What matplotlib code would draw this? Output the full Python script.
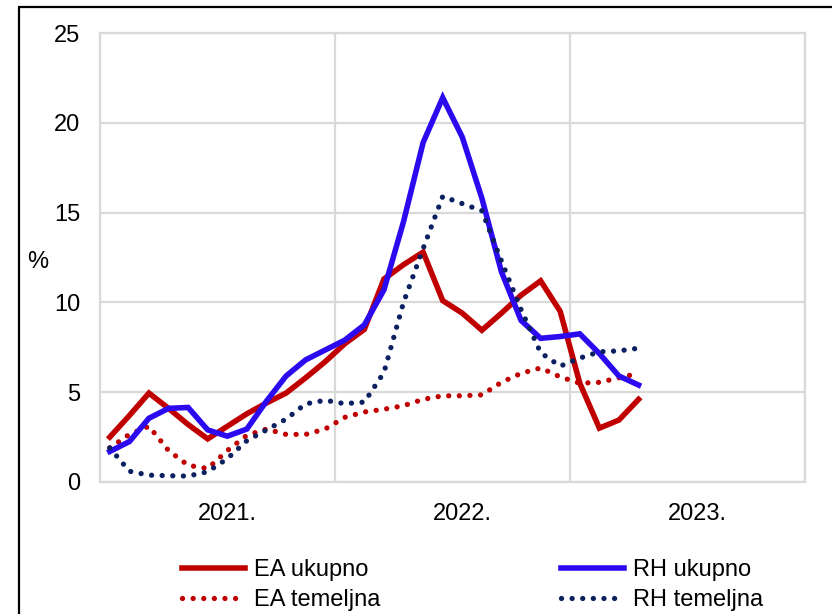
import matplotlib
matplotlib.use("Agg")
import matplotlib.pyplot as plt
from matplotlib.patches import Rectangle
import numpy as np

plt.rcParams['font.family'] = ['Liberation Sans', 'DejaVu Sans']

# monthly data, Jan 2021 .. Apr 2023
ea_ukupno = [2.5, 3.7, 4.95, 4.1, 3.2, 2.4, 3.1, 3.8, 4.4, 4.95, 5.8, 6.7, 7.7, 8.5,
             11.3, 12.1, 12.8, 10.1, 9.4, 8.45, 9.4, 10.4, 11.2, 9.5, 5.5, 3.0, 3.45, 4.6]
rh_ukupno = [1.7, 2.25, 3.55, 4.1, 4.15, 2.9, 2.55, 2.95, 4.5, 5.9, 6.8, 7.35, 7.9, 8.75,
             10.7, 14.5, 18.9, 21.4, 19.2, 15.8, 11.7, 9.0, 8.0, 8.1, 8.25, 7.15, 5.9, 5.4]
ea_temeljna = [1.9, 2.65, 3.1, 1.75, 0.93, 0.75, 1.75, 2.6, 2.95, 2.65, 2.65, 2.95, 3.6, 3.9,
               4.05, 4.25, 4.6, 4.8, 4.8, 4.85, 5.55, 6.05, 6.35, 5.85, 5.5, 5.55, 5.8, 6.05]
rh_temeljna = [1.9, 0.6, 0.38, 0.35, 0.33, 0.57, 1.3, 2.3, 2.9, 3.5, 4.35, 4.55, 4.36, 4.45,
               6.1, 10.0, 13.0, 15.9, 15.5, 15.1, 12.3, 9.6, 7.2, 6.45, 6.9, 7.25, 7.3, 7.45]
year_labels = ['2021.', '2022.', '2023.']
y_ticks = [0, 5, 10, 15, 20, 25]

W, H = 832, 614
fig = plt.figure(figsize=(W / 100, H / 100), dpi=100)
ax = fig.add_axes([100 / W, 1 - 482 / H, 705 / W, 449 / H])

x = np.arange(len(ea_ukupno)) + 0.5

red = '#C00000'
blue = '#2B0AF0'
navy = '#0A2060'
dot = (0, (0.01, 2.0))
FS = 17

l1, = ax.plot(x, ea_ukupno, color=red, lw=4.0, solid_joinstyle='miter', label='EA ukupno', zorder=3)
l3, = ax.plot(x, ea_temeljna, color=red, lw=3.8, linestyle=dot, dash_capstyle='round',
              label='EA temeljna', zorder=3)
l4, = ax.plot(x, rh_temeljna, color=navy, lw=3.8, linestyle=dot, dash_capstyle='round',
              label='RH temeljna', zorder=4)
l2, = ax.plot(x, rh_ukupno, color=blue, lw=4.0, solid_joinstyle='miter', label='RH ukupno', zorder=3)

ax.set_xlim(0, 36)
ax.set_ylim(0, 25)
ax.set_yticks(y_ticks)
ax.set_yticklabels([str(v) for v in y_ticks])
ax.set_xticks([0, 12, 24, 36])
ax.set_xticklabels([])
ax.set_xticks([6.5, 18.5, 30.5], minor=True)
ax.set_xticklabels(year_labels, minor=True)
ax.tick_params(axis='both', which='both', length=0, labelsize=FS, colors='black')
ax.tick_params(axis='y', pad=14)
ax.tick_params(axis='x', which='minor', pad=15)
ax.grid(True, which='major', color='#d9d9d9', lw=1.6)
ax.set_axisbelow(True)
for s in ax.spines.values():
    s.set_color('#d9d9d9')
    s.set_linewidth(1.6)

fig.text(38 / W, 1 - 262 / H, '%', ha='center', va='center', fontsize=FS)

leg = fig.legend([l1, l3, l2, l4], ['EA ukupno', 'EA temeljna', 'RH ukupno', 'RH temeljna'],
                 ncol=2, loc='center left', bbox_to_anchor=(182 / W, 1 - 585 / H),
                 frameon=False, fontsize=FS, handlelength=2.65, handletextpad=0.4,
                 columnspacing=7.65, labelspacing=0.35, borderpad=0, borderaxespad=0)

fig.patches.append(Rectangle((19 / W, -0.05), 1.1, 1 - 7 / H + 0.05, transform=fig.transFigure,
                             fill=False, edgecolor='black', lw=1.6, zorder=10))

fig.savefig('out.png', dpi=100)
